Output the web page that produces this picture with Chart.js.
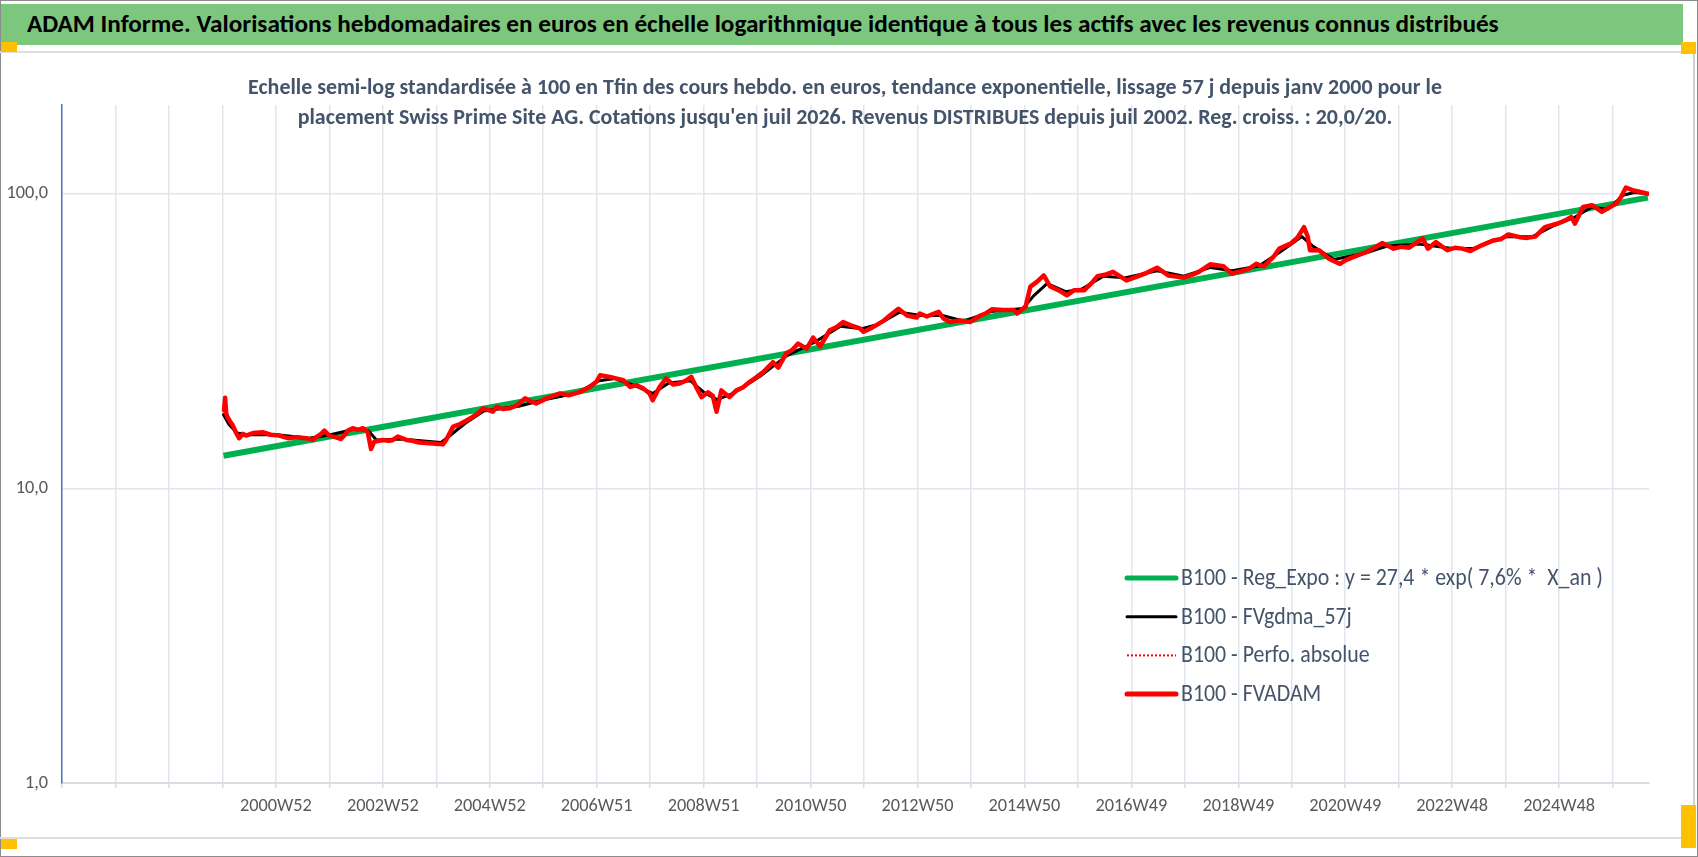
<!DOCTYPE html>
<html lang="fr">
<head>
<meta charset="utf-8">
<title>ADAM Informe - Swiss Prime Site AG</title>
<script src="https://cdn.jsdelivr.net/npm/chart.js@4.4.1/dist/chart.umd.min.js"></script>
<style>
  html, body { margin: 0; padding: 0; background: #ffffff; }
  #page { position: relative; width: 1698px; height: 857px; overflow: hidden; background: #ffffff; }
  .deco { position: absolute; }
  #frame { left: 0; top: 0; width: 1698px; height: 857px; box-sizing: border-box; border: 1px solid #8c8c8c; }
  #header { left: 1px; top: 4px; width: 1682px; height: 41px; background: #7dc67d; }
  #headerText { position: absolute; left: 26px; top: 0; height: 41px; line-height: 41px; white-space: pre; color: #000000; font-weight: bold; transform-origin: 0 50%; }
  #lineTop { left: 0; top: 51px; width: 1692px; height: 2px; background: #dedede; }
  #lineBottom { left: 0; top: 837px; width: 1694px; height: 2px; background: #dedede; }
  #lineRight { left: 1693px; top: 53px; width: 2px; height: 785px; background: #d0d0d0; }
  .handle { background: #ffc000; }
  #chartCanvas { position: absolute; left: 0; top: 0; }
</style>
</head>
<body>
<div id="page">
  <div id="frame" class="deco"></div>
  <div id="header" class="deco"><span id="headerText"></span></div>
  <div id="lineTop" class="deco"></div>
  <div id="lineBottom" class="deco"></div>
  <div id="lineRight" class="deco"></div>
  <div class="deco handle" style="left:1px;top:42px;width:16px;height:10px;"></div>
  <div class="deco handle" style="left:1681px;top:42px;width:15px;height:12px;"></div>
  <div class="deco handle" style="left:1px;top:839px;width:16px;height:10px;"></div>
  <div class="deco handle" style="left:1681px;top:805px;width:15px;height:43px;"></div>
  <canvas id="chartCanvas" width="1698" height="857"></canvas>
</div>
<script>
// ---------------- DATA ----------------
const headerTitle = 'ADAM Informe. Valorisations hebdomadaires en euros en échelle logarithmique identique à tous les actifs avec les revenus connus distribués';
const subtitleLines = [
  'Echelle semi-log standardisée à 100 en Tfin des cours hebdo. en euros, tendance exponentielle, lissage 57 j depuis janv 2000 pour le',
  "placement Swiss Prime Site AG. Cotations jusqu'en juil 2026. Revenus DISTRIBUES depuis juil 2002. Reg. croiss. : 20,0/20."
];
const seriesNames = [
  'B100 - Reg_Expo : y = 27,4 * exp( 7,6% *  X_an )',
  'B100 - FVgdma_57j',
  'B100 - Perfo. absolue',
  'B100 - FVADAM'
];
// x tick labels (one every two yearly ticks, from the 5th tick)
const xTickLabels = ['2000W52','2002W52','2004W52','2006W51','2008W51','2010W50','2012W50','2014W50','2016W49','2018W49','2020W49','2022W48','2024W48'];
const yTickValues = [1, 10, 100];
const yTickLabels = ['1,0', '10,0', '100,0'];

// Regression (exponential trend), read at both ends
const regYears  = [2000.00, 2026.55];
const regValues = [12.9, 97.0];

// FVgdma_57j (smoothed)
const gdmaYears = [2000.00,2000.10,2000.25,2000.45,2001.00,2001.60,2002.00,2002.45,2002.70,2002.85,2003.30,2004.05,2004.20,2004.50,2004.85,2005.50,2006.00,2006.60,2007.00,2007.30,2007.70,2008.00,2008.30,2008.70,2008.95,2009.20,2009.50,2010.00,2010.50,2011.00,2011.50,2011.90,2012.20,2012.60,2013.00,2013.40,2013.80,2014.30,2014.90,2015.10,2015.35,2015.70,2016.00,2016.40,2016.80,2017.40,2017.90,2018.40,2018.80,2019.30,2019.70,2020.10,2020.30,2020.70,2021.30,2021.70,2022.30,2022.90,2023.30,2023.90,2024.40,2024.80,2025.20,2025.50,2025.80,2026.10,2026.30,2026.55];
const gdmaValues = [17.8,16.5,15.4,15.2,15.2,14.8,15.2,15.9,15.7,14.6,14.7,14.3,15.0,16.6,18.3,19.0,20.0,21.1,23.2,23.6,22.2,21.0,22.8,23.2,21.2,20.0,21.0,24.0,28.2,31.2,35.5,34.8,36.0,39.6,38.6,38.6,36.9,39.8,40.8,45.0,49.5,46.5,47.5,52.5,51.8,54.8,52.5,56.2,54.8,56.8,63.5,71.5,66.5,59.8,63.0,66.5,67.5,65.2,65.2,71.5,71.5,78.0,83.5,90.0,88.5,99.0,101.0,100.0];

// FVADAM
const adamYears = [2000.01,2000.03,2000.05,2000.07,2000.12,2000.17,2000.23,2000.29,2000.36,2000.42,2000.55,2000.73,2000.88,2001.04,2001.20,2001.35,2001.54,2001.66,2001.72,2001.80,2001.88,2001.97,2002.10,2002.19,2002.26,2002.32,2002.41,2002.50,2002.60,2002.69,2002.75,2002.81,2002.97,2003.08,2003.16,2003.25,2003.41,2003.52,2003.65,2003.90,2004.09,2004.15,2004.28,2004.40,2004.53,2004.65,2004.75,2004.84,2005.02,2005.09,2005.20,2005.34,2005.46,2005.62,2005.72,2005.83,2006.02,2006.15,2006.27,2006.43,2006.64,2006.83,2006.95,2007.02,2007.20,2007.45,2007.58,2007.70,2007.83,2007.94,2008.00,2008.13,2008.25,2008.38,2008.50,2008.62,2008.72,2008.81,2008.91,2009.03,2009.12,2009.19,2009.28,2009.43,2009.56,2009.68,2009.81,2009.93,2010.06,2010.24,2010.34,2010.49,2010.60,2010.71,2010.87,2010.99,2011.12,2011.30,2011.42,2011.55,2011.68,2011.86,2011.93,2012.05,2012.17,2012.30,2012.42,2012.58,2012.74,2012.92,2012.98,2013.11,2013.22,2013.33,2013.42,2013.54,2013.73,2013.92,2014.11,2014.20,2014.32,2014.54,2014.73,2014.79,2014.95,2015.04,2015.16,2015.29,2015.41,2015.57,2015.72,2015.85,2016.04,2016.17,2016.29,2016.45,2016.58,2016.83,2017.04,2017.22,2017.40,2017.61,2017.90,2018.05,2018.18,2018.39,2018.64,2018.79,2018.95,2019.11,2019.25,2019.39,2019.57,2019.68,2019.89,2020.02,2020.14,2020.21,2020.25,2020.42,2020.60,2020.70,2020.81,2020.92,2021.03,2021.31,2021.45,2021.60,2021.81,2021.95,2022.10,2022.35,2022.45,2022.60,2022.81,2022.95,2023.09,2023.24,2023.45,2023.66,2023.80,2023.95,2024.16,2024.30,2024.45,2024.63,2024.87,2025.00,2025.12,2025.19,2025.34,2025.51,2025.69,2025.87,2025.97,2026.05,2026.14,2026.26,2026.37,2026.55];
const adamValues = [18.4,20.3,18.0,17.5,16.9,16.4,15.5,14.8,15.3,15.1,15.4,15.5,15.2,15.1,14.8,14.9,14.8,14.6,14.9,15.2,15.7,15.1,14.9,14.7,15.2,15.7,16.0,15.8,16.0,15.5,13.6,14.4,14.6,14.5,14.6,15.0,14.6,14.5,14.3,14.2,14.1,14.6,16.2,16.5,17.0,17.5,18.0,18.7,18.2,18.9,18.6,18.7,19.1,20.2,19.8,19.4,20.2,20.6,21.0,20.7,21.2,22.1,23.0,24.2,23.9,23.3,22.1,22.4,21.8,21.0,19.9,22.1,23.6,22.5,22.7,23.2,23.9,22.1,20.4,21.2,20.6,18.2,21.5,20.4,21.5,22.0,23.0,23.8,24.8,26.8,25.7,28.7,29.5,31.0,29.8,32.5,30.3,34.4,35.2,36.7,35.8,34.9,34.0,34.8,35.8,37.0,38.6,40.7,38.6,38.0,39.2,38.3,39.0,39.7,37.7,36.7,37.1,36.7,38.6,39.2,40.5,40.3,40.3,39.2,41.3,48.4,50.2,52.8,48.4,47.0,45.2,47.0,47.0,49.5,52.5,53.2,54.3,50.8,52.4,54.0,56.1,52.8,51.9,53.0,54.3,57.6,56.7,53.5,54.5,55.6,57.8,56.7,61.0,65.1,67.7,71.0,77.0,71.4,64.3,64.3,60.3,59.0,57.8,59.5,60.7,63.5,65.5,68.0,65.1,66.0,65.6,70.5,65.1,68.5,64.3,65.5,65.1,63.9,66.8,69.4,70.0,72.7,71.2,70.8,71.5,77.0,79.2,81.0,83.4,79.2,90.2,91.4,86.8,90.6,93.0,97.7,105.0,102.8,101.7,100.0];

// Perfo. absolue coincides with FVADAM in the picture (hidden under it)
const perfYears = adamYears;
const perfValues = adamValues;

// ---------------- LAYOUT / STYLE ----------------
const FONT = '"Carlito", "Liberation Sans Narrow", "Lato", sans-serif';
const X_MIN = 1996.99;            // first weekly category (1996W52)
const X_MAX = 2026.57;            // last weekly category (juil 2026)
const X_STEP = 52 / 52.1775;      // one tick every 52 weeks
const X_TICK_COUNT = 30;
const CAP_RATIO = 0.72;           // cap height / font size

function fitSize(text, width, weight) {
  const c = document.createElement('canvas').getContext('2d');
  c.font = weight + ' 100px ' + FONT;
  return 100 * width / c.measureText(text).width;
}
// returns {size, sx}: font size giving the wanted cap height, horizontal squeeze giving the wanted width
function fitBox(text, width, capHeight, weight) {
  const natural = fitSize(text, width, weight);
  const size = capHeight / CAP_RATIO;
  return { size: size, sx: natural / size };
}
const headerFit = fitBox(headerTitle, 1472, 16.8, 'bold');
const subtitleFit = fitBox(subtitleLines[0], 1194, 16.2, 'bold');
const legendFit = fitBox(seriesNames[0], 422, 17.0, 'normal');
const tickSize = fitSize(xTickLabels[0], 63, 'normal') * 1.14;

const headerEl = document.getElementById('headerText');
headerEl.textContent = headerTitle;
headerEl.style.fontFamily = FONT;
headerEl.style.fontSize = headerFit.size.toFixed(2) + 'px';
headerEl.style.transform = 'scaleX(' + headerFit.sx.toFixed(4) + ')';

function toPoints(xs, ys) { return xs.map((x, i) => ({ x: x, y: ys[i] })); }

const subtitlePlugin = {
  id: 'subtitleOverlay',
  beforeDatasetsDraw(chart) {
    const ctx = chart.ctx;
    const cx = 845;
    const baselines = [94, 124];
    ctx.save();
    ctx.fillStyle = '#44546a';
    ctx.font = 'bold ' + subtitleFit.size.toFixed(2) + 'px ' + FONT;
    ctx.textAlign = 'center';
    ctx.textBaseline = 'alphabetic';
    subtitleLines.forEach((t, i) => {
      ctx.save();
      ctx.translate(cx, baselines[i]);
      ctx.scale(subtitleFit.sx, 1);
      ctx.fillText(t, 0, 0);
      ctx.restore();
    });
    ctx.restore();
  }
};

const legendPlugin = {
  id: 'insideLegend',
  afterDraw(chart) {
    const ctx = chart.ctx;
    const x0 = 1127, x1 = 1176, xt = 1181, y0 = 578, dy = 38.7;
    ctx.save();
    ctx.font = legendFit.size.toFixed(2) + 'px ' + FONT;
    ctx.textBaseline = 'middle';
    ctx.textAlign = 'left';
    chart.data.datasets.forEach((ds, i) => {
      const y = y0 + i * dy;
      ctx.beginPath();
      ctx.strokeStyle = ds.borderColor;
      ctx.lineWidth = ds.legendWidth;
      ctx.lineCap = ds.borderDash && ds.borderDash.length ? 'butt' : 'round';
      ctx.setLineDash(ds.borderDash || []);
      ctx.moveTo(x0, y);
      ctx.lineTo(x1, y);
      ctx.stroke();
      ctx.setLineDash([]);
      ctx.fillStyle = '#44546a';
      ctx.save();
      ctx.translate(xt, y + 1);
      ctx.scale(legendFit.sx, 1);
      ctx.fillText(ds.label, 0, 0);
      ctx.restore();
    });
    ctx.restore();
  }
};

const tickFont = { family: FONT, size: Math.round(tickSize * 10) / 10 };

new Chart(document.getElementById('chartCanvas'), {
  type: 'line',
  data: {
    datasets: [
      { label: seriesNames[0], data: toPoints(regYears, regValues), borderColor: '#00b050', borderWidth: 6, legendWidth: 5, order: 3, borderCapStyle: 'butt' },
      { label: seriesNames[1], data: toPoints(gdmaYears, gdmaValues), borderColor: '#000000', borderWidth: 3, legendWidth: 3, order: 2 },
      { label: seriesNames[2], data: toPoints(perfYears, perfValues), borderColor: '#ff0000', borderWidth: 1.5, legendWidth: 2, borderDash: [2, 2], order: 1 },
      { label: seriesNames[3], data: toPoints(adamYears, adamValues), borderColor: '#ff0000', borderWidth: 4.5, legendWidth: 5, order: 0 }
    ]
  },
  options: {
    responsive: false,
    animation: false,
    devicePixelRatio: 1,
    layout: { padding: { top: 105, right: 49, bottom: 0, left: 0 } },
    elements: {
      point: { radius: 0, hoverRadius: 0 },
      line: { tension: 0, fill: false, borderJoinStyle: 'round', borderCapStyle: 'round' }
    },
    plugins: {
      legend: { display: false },
      title: { display: false },
      tooltip: { enabled: false }
    },
    scales: {
      x: {
        type: 'linear',
        min: X_MIN,
        max: X_MAX,
        afterBuildTicks: (scale) => {
          const t = [];
          for (let k = 0; k < X_TICK_COUNT; k++) t.push({ value: X_MIN + k * X_STEP });
          scale.ticks = t;
        },
        afterFit: (scale) => { scale.height = 74; },
        grid: {
          color: (c) => (c.index === 0 ? 'rgba(0,0,0,0)' : '#e1e5ec'),
          lineWidth: 1.5,
          drawTicks: true,
          tickLength: 5,
          tickColor: '#d9dde4'
        },
        border: { display: true, color: '#d9dde4', width: 2 },
        ticks: {
          autoSkip: false,
          maxRotation: 0,
          minRotation: 0,
          padding: 7,
          color: '#595959',
          font: tickFont,
          callback: (v, k) => (k >= 4 && (k - 4) % 2 === 0 && xTickLabels[(k - 4) / 2]) ? xTickLabels[(k - 4) / 2] : ''
        }
      },
      y: {
        type: 'logarithmic',
        min: 1,
        max: 200,
        afterBuildTicks: (scale) => { scale.ticks = yTickValues.map(v => ({ value: v })); },
        afterFit: (scale) => { scale.width = 62; },
        grid: {
          color: (c) => (c.index === 0 ? 'rgba(0,0,0,0)' : '#e1e5ec'),
          lineWidth: 1.5,
          drawTicks: false
        },
        border: { display: true, color: '#4472c4', width: 1.5 },
        ticks: {
          padding: 14,
          color: '#595959',
          font: tickFont,
          callback: (v, k) => yTickLabels[k]
        }
      }
    }
  },
  plugins: [subtitlePlugin, legendPlugin]
});
</script>
</body>
</html>
